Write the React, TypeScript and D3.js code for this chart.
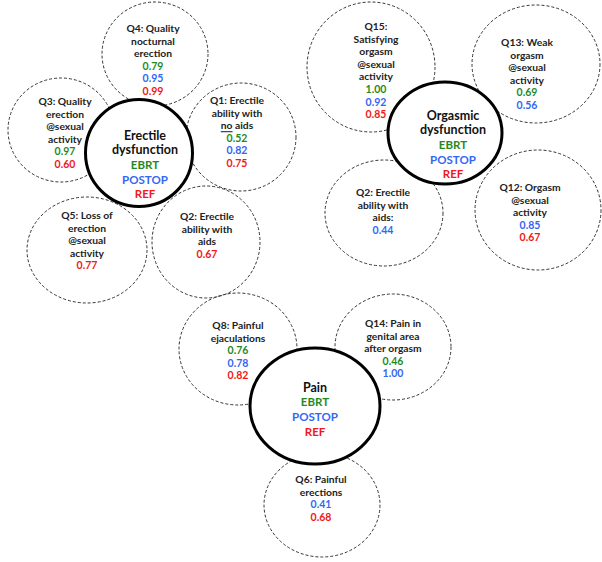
import React from "react";
import * as d3 from "d3";

// ---------- data ----------
const groups = ["EBRT", "POSTOP", "REF"];
const clusterTitles = [["Erectile", "dysfunction"], ["Orgasmic", "dysfunction"], ["Pain"]];

// Erectile dysfunction questions
const erectileLabels = [
  ["Q4: Quality", "nocturnal", "erection"],
  ["Q1: Erectile", "ability with", "_no_ aids"],
  ["Q3: Quality", "erection", "@sexual", "activity"],
  ["Q5: Loss of", "erection", "@sexual", "activity"],
  ["Q2: Erectile", "ability with", "aids"],
];
const erectileValues: (number | null)[][] = [
  [0.79, 0.95, 0.99],
  [0.52, 0.82, 0.75],
  [0.97, null, 0.6],
  [null, null, 0.77],
  [null, null, 0.67],
];

// Orgasmic dysfunction questions
const orgasmicLabels = [
  ["Q15:", "Satisfying", "orgasm", "@sexual", "activity"],
  ["Q13: Weak", "orgasm", "@sexual", "activity"],
  ["Q2: Erectile", "ability with", "aids:"],
  ["Q12: Orgasm", "@sexual", "activity"],
];
const orgasmicValues: (number | null)[][] = [
  [1.0, 0.92, 0.85],
  [0.69, 0.56, null],
  [null, 0.44, null],
  [null, 0.85, 0.67],
];

// Pain questions
const painLabels = [
  ["Q8: Painful", "ejaculations"],
  ["Q14: Pain in", "genital area", "after orgasm"],
  ["Q6: Painful", "erections"],
];
const painValues: (number | null)[][] = [
  [0.76, 0.78, 0.82],
  [0.46, 1.0, null],
  [null, 0.41, 0.68],
];

// ---------- layout (positions & styles) ----------
const groupColors = ["#1f8a1f", "#3366f5", "#f01818"];
const colorScale = d3.scaleOrdinal<string, string>().domain(groups).range(groupColors);

type Bubble = { cx: number; cy: number; rx: number; ry: number; tx: number; ty: number };
const centers = [
  { cx: 139, cy: 153, rx: 53.5, ry: 53.5, tx: 145, ty: 135 },
  { cx: 445, cy: 133, rx: 57, ry: 51, tx: 453, ty: 115 },
  { cx: 315, cy: 406, rx: 65, ry: 58, tx: 315, ty: 387 },
];
const erectileBubbles: Bubble[] = [
  { cx: 155, cy: 54, rx: 53, ry: 52, tx: 153, ty: 28 },
  { cx: 241, cy: 137, rx: 55, ry: 54, tx: 237, ty: 100 },
  { cx: 61, cy: 130, rx: 53, ry: 52, tx: 65, ty: 101 },
  { cx: 87, cy: 250, rx: 60, ry: 53, tx: 87, ty: 215 },
  { cx: 206, cy: 242, rx: 54, ry: 56, tx: 207, ty: 216 },
];
const orgasmicBubbles: Bubble[] = [
  { cx: 371, cy: 67, rx: 64, ry: 65, tx: 376, ty: 26 },
  { cx: 536, cy: 64, rx: 64, ry: 59, tx: 527, ty: 42 },
  { cx: 384, cy: 213, rx: 59, ry: 53, tx: 383, ty: 192 },
  { cx: 538, cy: 210, rx: 63, ry: 60, tx: 530, ty: 187 },
];
const painBubbles: Bubble[] = [
  { cx: 238, cy: 349, rx: 59, ry: 56, tx: 238, ty: 325 },
  { cx: 393, cy: 347, rx: 58, ry: 53, tx: 393, ty: 323 },
  { cx: 322, cy: 505, rx: 58, ry: 52, tx: 321, ty: 479 },
];

const FONT = "Lato, 'Open Sans', sans-serif";
const LINE = 12.6;
const TITLE_LINE = 14.7;

function LabelLine({ text, x, y }: { text: string; x: number; y: number }) {
  // "_word_" marks an underlined word
  const parts = text.split(/(_[^_]+_)/).filter((p) => p.length);
  return (
    <text x={x} y={y} textAnchor="middle" dominantBaseline="central" fontSize={10.3} fontWeight={700} fill="#222">
      {parts.map((p, i) =>
        p.startsWith("_") ? (
          <tspan key={i} textDecoration="underline">{p.slice(1, -1)}</tspan>
        ) : (
          <tspan key={i}>{p}</tspan>
        )
      )}
    </text>
  );
}

function Cluster({
  center,
  title,
  bubbles,
  labels,
  values,
}: {
  center: Bubble;
  title: string[];
  bubbles: Bubble[];
  labels: string[][];
  values: (number | null)[][];
}) {
  const fmt = d3.format(".2f");
  return (
    <g>
      {bubbles.map((b, i) => (
        <ellipse key={"e" + i} cx={b.cx} cy={b.cy} rx={b.rx} ry={b.ry} fill="none" stroke="#333" strokeWidth={1} strokeDasharray="3,2" />
      ))}
      <ellipse cx={center.cx} cy={center.cy} rx={center.rx} ry={center.ry} fill="#fff" stroke="#000" strokeWidth={3} />
      {bubbles.map((b, i) => {
        const lines = labels[i];
        const vals = values[i]
          .map((v, g) => ({ v, g }))
          .filter((d) => d.v !== null);
        return (
          <g key={"t" + i}>
            {lines.map((l, j) => (
              <LabelLine key={j} text={l} x={b.tx} y={b.ty + j * LINE} />
            ))}
            {vals.map((d, k) => (
              <text
                key={"v" + k}
                x={b.tx}
                y={b.ty + (lines.length + k) * LINE}
                textAnchor="middle"
                dominantBaseline="central"
                fontSize={10.5}
                fontWeight={700}
                fill={colorScale(groups[d.g])}
              >
                {fmt(d.v as number)}
              </text>
            ))}
          </g>
        );
      })}
      {title.map((t, j) => (
        <text key={"ti" + j} x={center.tx} y={center.ty + j * TITLE_LINE} textAnchor="middle" dominantBaseline="central" fontSize={12.5} fontWeight={700} fill="#111">
          {t}
        </text>
      ))}
      {groups.map((g, k) => (
        <text
          key={"g" + k}
          x={center.tx}
          y={center.ty + (title.length + k) * TITLE_LINE}
          textAnchor="middle"
          dominantBaseline="central"
          fontSize={11.5}
          fontWeight={700}
          fill={colorScale(g)}
        >
          {g}
        </text>
      ))}
    </g>
  );
}

export default function App() {
  return (
    <svg
      width={602}
      height={562}
      style={{ position: "absolute", left: 0, top: 0, background: "#fff" }}
      fontFamily={FONT}
    >
      <rect width={602} height={562} fill="#fff" />
      <Cluster center={centers[0]} title={clusterTitles[0]} bubbles={erectileBubbles} labels={erectileLabels} values={erectileValues} />
      <Cluster center={centers[1]} title={clusterTitles[1]} bubbles={orgasmicBubbles} labels={orgasmicLabels} values={orgasmicValues} />
      <Cluster center={centers[2]} title={clusterTitles[2]} bubbles={painBubbles} labels={painLabels} values={painValues} />
    </svg>
  );
}
